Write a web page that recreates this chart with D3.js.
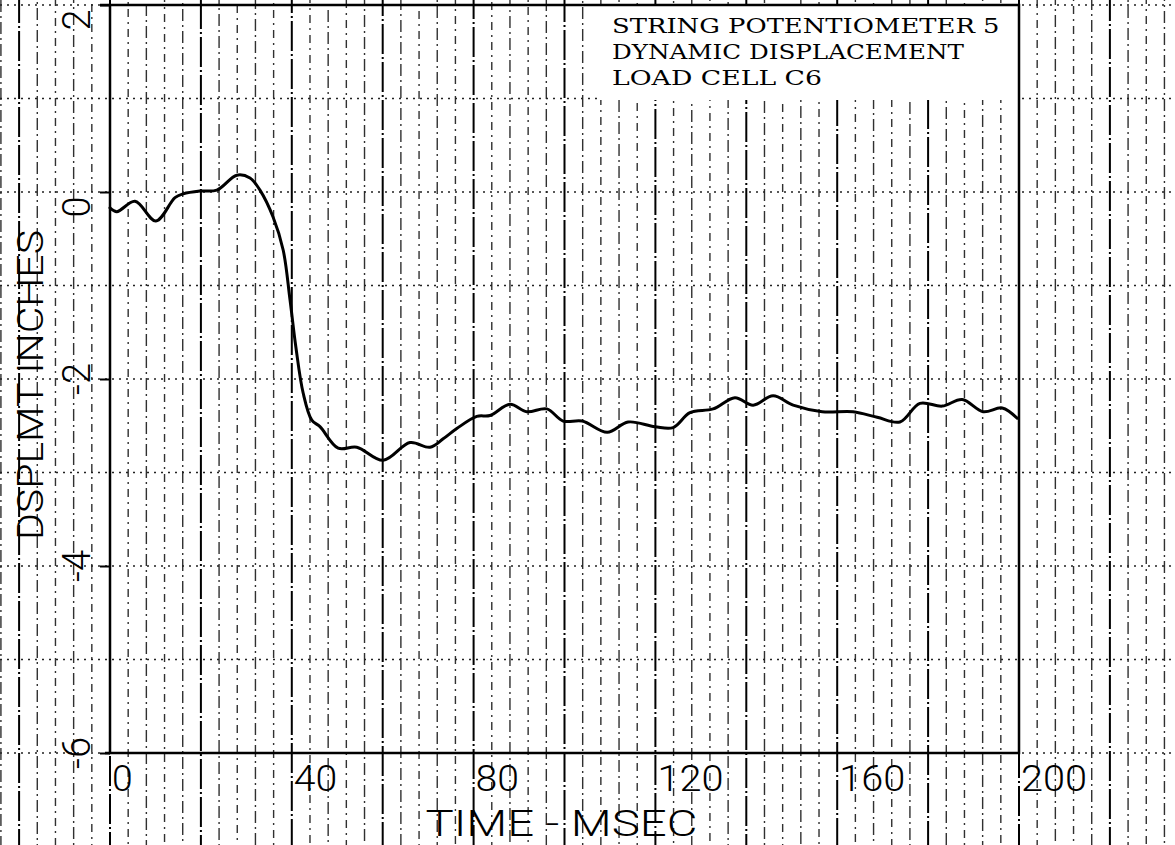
<!DOCTYPE html>
<html>
<head>
<meta charset="utf-8">
<script src="https://cdn.jsdelivr.net/npm/d3@7"></script>
<style>
  html, body { margin: 0; padding: 0; background: #fff; }
  svg { display: block; }
</style>
</head>
<body>
<svg id="chart" width="1175" height="845"></svg>
<script>
// ---- data ----
const timeMs = [0, 1.5, 5.5, 10.1, 14.3, 16.1, 19.8, 23.5, 27.9, 30.8, 33.0, 35.9, 38.1, 39.6, 40.9,
  42.5, 44.4, 46.2, 50.2, 54.3, 60.1, 66.0, 70.4, 73.3, 76.3, 80.7, 83.6, 88.0, 91.7, 96.1,
  99.7, 103.9, 109.4, 114.0, 119.9, 123.9, 127.6, 132.7, 137.5, 141.5, 145.9, 150.3, 156.7,
  163.5, 168.8, 173.8, 178.2, 183.1, 187.5, 192.1, 196.3, 199.6];
const displacement = [-0.17, -0.21, -0.10, -0.31, -0.06, -0.02, 0.01, 0.02, 0.18, 0.15, 0.02, -0.27, -0.62, -1.15, -1.66,
  -2.15, -2.44, -2.51, -2.74, -2.73, -2.87, -2.68, -2.73, -2.64, -2.53, -2.40, -2.39, -2.27, -2.35, -2.32,
  -2.45, -2.45, -2.57, -2.46, -2.51, -2.52, -2.36, -2.32, -2.20, -2.28, -2.18, -2.28, -2.35,
  -2.35, -2.41, -2.46, -2.26, -2.29, -2.22, -2.35, -2.31, -2.42];
const xTicks = [0, 40, 80, 120, 160, 200];
const yTicks = [-6, -4, -2, 0, 2];
const xTickLabels = ["0", "40", "80", "120", "160", "200"];
const yTickLabels = ["-6", "-4", "-2", "0", "2"];
const titleLines = ["STRING POTENTIOMETER 5", "DYNAMIC DISPLACEMENT", "LOAD CELL C6"];
const xTitle = "TIME - MSEC";
const yTitle = "DSPLMT INCHES";

// ---- layout ----
const W = 1175, H = 845;
const L = 110, R = 1019, T = 5, B = 753;
const svg = d3.select("#chart");
const x = d3.scaleLinear().domain([0, 200]).range([L, R]);
const y = d3.scaleLinear().domain([-6, 2]).range([B, T]);

// graph-paper grid (extends over the whole sheet)
const gridT = d3.range(-24, 240, 4).filter(t => x(t) >= 0 && x(t) <= W);
const gridV = d3.range(-6, 3, 1);
const grid = svg.append("g");
grid.selectAll("line.v").data(gridT).join("line")
  .attr("x1", d => x(d)).attr("x2", d => x(d))
  .attr("y1", 0).attr("y2", H)
  .attr("stroke", d => d % 20 === 0 ? "#000" : "#1a1a1a")
  .attr("stroke-width", d => d % 20 === 0 ? 2 : 1.4)
  .attr("stroke-dasharray", d => d % 20 === 0 ? "30,3,2,3" : ((d / 4) % 2 === 0 ? "12,4,2,4" : "8,5,2,5"))
  .attr("stroke-dashoffset", (d, i) => (i * 7) % 19)
  .attr("opacity", d => d % 20 === 0 ? 1 : 0.9);
grid.selectAll("line.h").data(gridV).join("line")
  .attr("x1", 0).attr("x2", W)
  .attr("y1", d => y(d)).attr("y2", d => y(d))
  .attr("stroke", "#222").attr("stroke-width", 1.3)
  .attr("stroke-dasharray", "2,5");

// white panel behind the title block
svg.append("rect").attr("x", 597).attr("y", T).attr("width", R - 597).attr("height", 95).attr("fill", "#fff");

// frame
svg.append("rect").attr("x", L).attr("y", T).attr("width", R - L).attr("height", B - T)
  .attr("fill", "none").attr("stroke", "#000").attr("stroke-width", 2.5);
svg.append("line").attr("x1", 100).attr("x2", L).attr("y1", T).attr("y2", T).attr("stroke", "#000").attr("stroke-width", 2.5);
svg.append("line").attr("x1", 105).attr("x2", L).attr("y1", B).attr("y2", B).attr("stroke", "#000").attr("stroke-width", 2.5);

// axes (ticks only, labels drawn separately in plotter style)
const yAxis = svg.append("g").attr("transform", `translate(${L},0)`)
  .call(d3.axisLeft(y).tickValues(yTicks).tickSize(10).tickFormat(""));
yAxis.select(".domain").remove();
yAxis.selectAll(".tick line").attr("stroke", "#000").attr("stroke-width", 2);

const plotFont = "Roboto, 'DejaVu Sans', sans-serif";

// x tick labels
svg.append("g").selectAll("text").data(xTicks).join("text")
  .attr("x", d => x(d) + 2).attr("y", 791)
  .attr("font-family", plotFont).attr("font-weight", 300).attr("font-size", 37)
  .attr("textLength", (d, i) => xTickLabels[i].length * 22.7 - 2)
  .attr("lengthAdjust", "spacingAndGlyphs")
  .attr("fill", "#000")
  .text((d, i) => xTickLabels[i]);

// y tick labels (rotated)
svg.append("g").selectAll("text").data(yTicks).join("text")
  .attr("transform", d => `translate(90,${y(d) + (d >= 0 ? 15 : 0)}) rotate(-90)`)
  .attr("text-anchor", "middle")
  .attr("font-family", plotFont).attr("font-weight", 300).attr("font-size", 38)
  .attr("fill", "#000")
  .text((d, i) => yTickLabels[i]);

// axis titles
svg.append("text")
  .attr("x", (L + R) / 2 - 3).attr("y", 836)
  .attr("text-anchor", "middle")
  .attr("font-family", plotFont).attr("font-weight", 300).attr("font-size", 36)
  .attr("textLength", 272).attr("lengthAdjust", "spacingAndGlyphs")
  .attr("fill", "#000")
  .text(xTitle);
svg.append("text")
  .attr("transform", `translate(43,${(T + B) / 2 + 6}) rotate(-90)`)
  .attr("text-anchor", "middle")
  .attr("font-family", plotFont).attr("font-weight", 300).attr("font-size", 37)
  .attr("textLength", 310).attr("lengthAdjust", "spacingAndGlyphs")
  .attr("fill", "#000")
  .text(yTitle);

// title block (typewriter-style serif)
svg.append("g").selectAll("text").data(titleLines).join("text")
  .attr("x", 612).attr("y", (d, i) => 33 + i * 26)
  .attr("font-family", "'DejaVu Serif', 'Liberation Serif', serif").attr("font-size", 21)
  .attr("textLength", d => d.length * 17.75 - 3).attr("lengthAdjust", "spacingAndGlyphs")
  .attr("fill", "#000")
  .text(d => d);

// data curve
const pts = timeMs.map((t, i) => [t, displacement[i]]);
const line = d3.line().x(d => x(d[0])).y(d => y(d[1])).curve(d3.curveCatmullRom.alpha(0.5));
svg.append("path").datum(pts)
  .attr("d", line)
  .attr("fill", "none").attr("stroke", "#000").attr("stroke-width", 3)
  .attr("stroke-linejoin", "round").attr("stroke-linecap", "round");
</script>
</body>
</html>
